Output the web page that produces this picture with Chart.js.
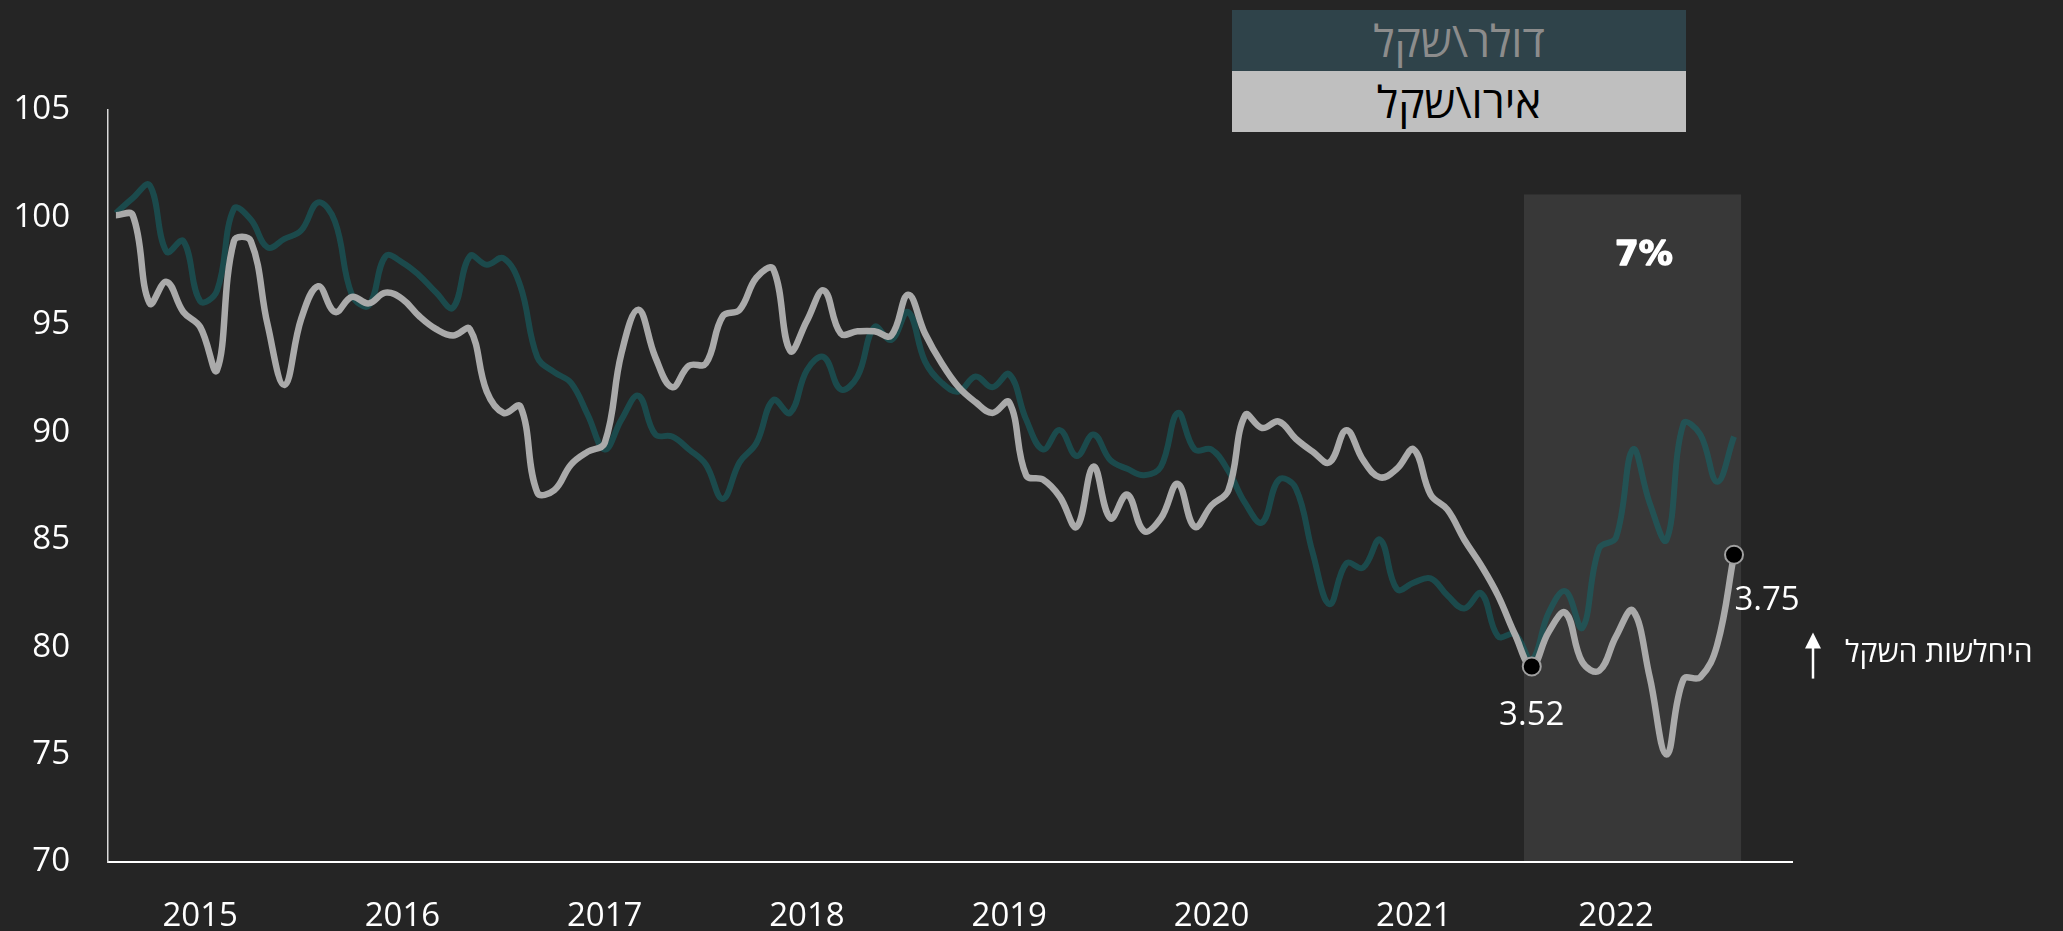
<!DOCTYPE html>
<html>
<head>
<meta charset="utf-8">
<script src="https://cdn.jsdelivr.net/npm/chart.js@4.4.1/dist/chart.umd.min.js"></script>
<style>
html, body { margin: 0; padding: 0; background: #252525; }
#wrap { position: relative; width: 2063px; height: 931px; }
#legend { position: absolute; left: 1232px; top: 10px; width: 454px; direction: rtl;
  font-family: "Open Sans", "Noto Sans", "DejaVu Sans", sans-serif; font-size: 44px; }
#legend div { height: 61px; line-height: 61px; text-align: center; }
</style>
</head>
<body>
<div id="wrap">
  <canvas id="fxChart"></canvas>
  <div id="legend">
    <div style="background:#2f434a;color:#8c8c8c">דולר\שקל</div>
    <div style="background:#bfbfbf;color:#000">אירו\שקל</div>
  </div>
</div>
<script>
// monthly index, Aug 2014 .. Aug 2022 (index 0 = Aug 2014)
const yearLabels = ['2015', '2016', '2017', '2018', '2019', '2020', '2021', '2022']
const yearTickIdx = [5, 17, 29, 41, 53, 65, 77, 89]

// dollar/shekel, index (start = 100)
const usdIls = [
  100.2, 100.9, 101.5, 98.4, 98.9, 96.1, 96.6, 100.4, 99.9, 98.6, 99.0, 99.4,
  100.7, 99.8, 96.4, 95.9, 98.2, 97.9, 97.3, 96.5, 95.8, 98.2, 97.8, 98.1,
  96.8, 93.5, 92.8, 92.3, 90.8, 89.2, 90.6, 91.7, 89.9, 89.8, 89.2, 88.5,
  86.9, 88.6, 89.5, 91.5, 90.9, 92.9, 93.5, 92.0, 92.6, 94.9, 94.3, 95.6,
  93.3, 92.3, 91.9, 92.6, 92.1, 92.7, 90.6, 89.2, 90.1, 88.9, 89.9, 88.7,
  88.3, 88.0, 88.4, 90.9, 89.2, 89.2, 88.2, 86.7, 85.8, 87.8, 87.4, 84.4,
  82.0, 83.9, 83.7, 85.0, 82.7, 83.0, 83.2, 82.4, 81.8, 82.5, 80.5, 80.6,
  79.4, 81.6, 82.6, 80.9, 84.6, 85.1, 89.2, 86.7, 85.0, 90.4, 89.9, 87.7,
  89.8
]

// euro/shekel, index (start = 100)
const eurIls = [
  100.1, 100.1, 96.0, 97.0, 95.6, 94.9, 92.9, 98.9, 98.9, 95.0, 92.2, 95.3,
  96.8, 95.6, 96.3, 96.0, 96.5, 96.2, 95.4, 94.8, 94.5, 94.8, 91.9, 90.9,
  91.2, 87.2, 87.3, 88.5, 89.1, 89.5, 93.7, 95.7, 93.5, 92.1, 93.1, 93.2,
  95.4, 95.7, 97.2, 97.6, 93.8, 95.2, 96.6, 94.6, 94.7, 94.7, 94.5, 96.4,
  94.6, 93.2, 92.1, 91.4, 90.9, 91.4, 88.0, 87.8, 87.0, 85.6, 88.4, 86.0,
  87.1, 85.4, 86.0, 87.6, 85.6, 86.6, 87.3, 90.8, 90.2, 90.5, 89.7, 89.1,
  88.6, 90.1, 88.7, 87.9, 88.3, 89.2, 87.1, 86.4, 85.0, 83.8, 82.4, 80.6,
  79.1, 80.7, 81.6, 79.3, 78.9, 80.5, 81.7, 78.6, 75.0, 78.5, 78.6, 80.1,
  84.3
]

// marked points on the euro line and their rates
const markIdx = [84, 96]
const markLabels = ['3.52', '3.75']

// shaded period and its label
const shadeFrom = 83.54
const shadeTo = 96.42
const shadeTop = 101.07
const shadeLabel = '7%'
const weakLabel = 'היחלשות השקל'

const fontFamily = '"Open Sans", "Noto Sans", "DejaVu Sans", sans-serif'

function toPoints(arr) {
    return arr.map(function(v, i) { return {x: i, y: v} })
}

const extras = {
    id: 'extras',
    beforeDatasetsDraw(chart) {
        const {ctx, scales: {x, y}} = chart
        const left = x.getPixelForValue(shadeFrom)
        const right = x.getPixelForValue(shadeTo)
        const top = y.getPixelForValue(shadeTop)
        const bottom = y.getPixelForValue(70)
        ctx.save()
        ctx.fillStyle = '#383838'
        ctx.fillRect(left, top, right - left, bottom - top - 1)
        ctx.restore()
    },
    afterDraw(chart) {
        const {ctx, chartArea, scales: {x, y}} = chart
        ctx.save()
        ctx.fillStyle = '#ffffff'
        ctx.strokeStyle = '#ffffff'
        ctx.textBaseline = 'middle'

        // heavy label on the shaded period
        ctx.font = 'bold 34px "DejaVu Sans", sans-serif'
        ctx.textAlign = 'center'
        ctx.lineWidth = 1.5
        ctx.lineJoin = 'round'
        const lx = x.getPixelForValue(90.65), ly = y.getPixelForValue(98.2)
        ctx.strokeText(shadeLabel, lx, ly)
        ctx.fillText(shadeLabel, lx, ly)

        ctx.font = '33px ' + fontFamily
        const p0x = x.getPixelForValue(markIdx[0]), p0y = y.getPixelForValue(eurIls[markIdx[0]])
        ctx.fillText(markLabels[0], p0x, p0y + 49)
        const p1x = x.getPixelForValue(markIdx[1]), p1y = y.getPixelForValue(eurIls[markIdx[1]])
        ctx.fillText(markLabels[1], p1x + 33, p1y + 46)

        // weakening of the shekel
        const ay = y.getPixelForValue(79.7)
        const ax = chartArea.right + 21
        ctx.lineWidth = 2.5
        ctx.beginPath()
        ctx.moveTo(ax, ay + 25)
        ctx.lineTo(ax, ay - 8)
        ctx.stroke()
        ctx.beginPath()
        ctx.moveTo(ax, ay - 21)
        ctx.lineTo(ax - 8, ay - 5)
        ctx.lineTo(ax + 8, ay - 5)
        ctx.closePath()
        ctx.fill()

        ctx.textAlign = 'left'
        ctx.font = '30px ' + fontFamily
        ctx.fillText(weakLabel, ax + 32, ay)
        ctx.restore()
    }
}

Chart.defaults.font.family = fontFamily

new Chart(document.getElementById('fxChart'), {
    type: 'line',
    data: {
        datasets: [
            {
                label: 'אירו\\שקל',
                data: toPoints(eurIls),
                borderColor: '#aaaaaa',
                borderWidth: 6.5,
                tension: 0.4,
                order: 0,
                pointRadius: function(c) { return markIdx.includes(c.dataIndex) ? 9 : 0 },
                pointBackgroundColor: '#000000',
                pointBorderColor: '#a0a0a0',
                pointBorderWidth: 2
            },
            {
                label: 'דולר\\שקל',
                data: toPoints(usdIls),
                borderColor: 'rgba(22, 100, 104, 0.6)',
                borderWidth: 6,
                tension: 0.4,
                order: 1,
                pointRadius: 0
            }
        ]
    },
    options: {
        responsive: true,
        maintainAspectRatio: false,
        animation: false,
        layout: {padding: {left: 0, right: 271, top: 110, bottom: 0}},
        plugins: {legend: {display: false}, tooltip: {enabled: false}},
        scales: {
            x: {
                type: 'linear',
                min: -0.47,
                max: 99.44,
                grid: {display: false, drawTicks: false},
                border: {display: true, color: '#ffffff', width: 2},
                afterBuildTicks: function(scale) {
                    scale.ticks = yearTickIdx.map(function(v) { return {value: v} })
                },
                afterFit: function(scale) { scale.height = 69 },
                ticks: {
                    color: '#ffffff',
                    font: {size: 33},
                    padding: 35,
                    maxRotation: 0,
                    autoSkip: false,
                    callback: function(v) { return yearLabels[yearTickIdx.indexOf(v)] }
                }
            },
            y: {
                min: 70,
                max: 105,
                grid: {display: false, drawTicks: false},
                border: {display: true, color: '#d9d9d9', width: 1.5},
                afterFit: function(scale) { scale.width = 108 },
                ticks: {
                    stepSize: 5,
                    color: '#ffffff',
                    font: {size: 33},
                    padding: 38
                }
            }
        }
    },
    plugins: [extras]
})
</script>
</body>
</html>
